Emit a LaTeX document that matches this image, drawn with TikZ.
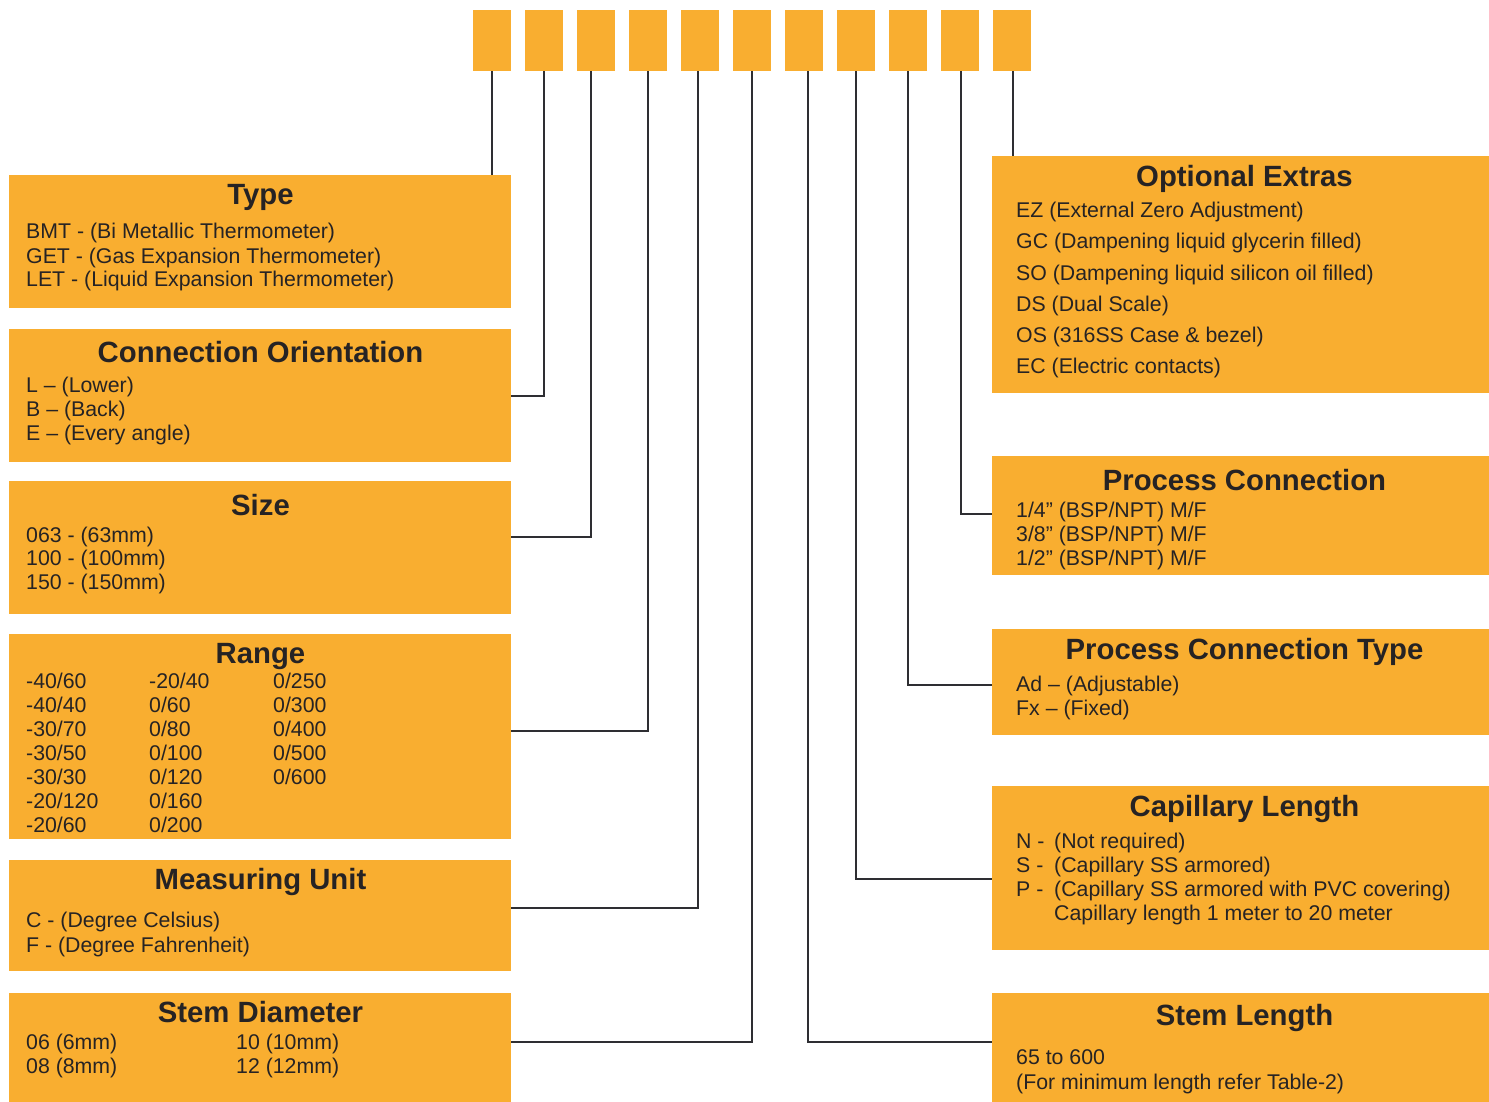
\documentclass[tikz,border=0pt]{standalone}
\usepackage{fontspec}
\setmainfont{Liberation Sans}
\definecolor{boxorange}{HTML}{F9AE30}
\definecolor{inkdark}{HTML}{262324}
\definecolor{linedark}{HTML}{2E2E32}
\begin{document}
\begin{tikzpicture}[x=1pt,y=-1pt,
  box/.style={fill=boxorange,draw=none,anchor=north west,inner sep=0pt},
  sq/.style={box,minimum width=38pt,minimum height=61pt},
  ttl/.style={anchor=base,inner sep=0pt,text=inkdark,font=\fontsize{29.3}{33}\selectfont\bfseries},
  body/.style={anchor=base west,inner sep=0pt,text=inkdark,font=\fontsize{21.3}{24}\selectfont},
  conn/.style={draw=linedark,line width=2.4pt}]
\useasboundingbox (0,0) rectangle (1489,1102);
% top code squares
\foreach \i in {1,...,11}
  \node[sq] (s\i) at ({473+52*(\i-1)},10) {};
% left boxes
\node[box,minimum width=502pt,minimum height=133pt] (type) at (9,175) {};
\node[box,minimum width=502pt,minimum height=133pt] (orient) at (9,329) {};
\node[box,minimum width=502pt,minimum height=133pt] (size) at (9,481) {};
\node[box,minimum width=502pt,minimum height=205pt] (range) at (9,634) {};
\node[box,minimum width=502pt,minimum height=111pt] (unit) at (9,860) {};
\node[box,minimum width=502pt,minimum height=109pt] (diam) at (9,993) {};
% right boxes
\node[box,minimum width=497pt,minimum height=237pt] (extras) at (992,156) {};
\node[box,minimum width=497pt,minimum height=119pt] (pc) at (992,456) {};
\node[box,minimum width=497pt,minimum height=106pt] (pctype) at (992,629) {};
\node[box,minimum width=497pt,minimum height=164pt] (cap) at (992,786) {};
\node[box,minimum width=497pt,minimum height=109pt] (slen) at (992,993) {};
% titles
\node[ttl] (type-t) at (260.5,205) {Type};
\node[ttl] (orient-t) at (260.5,362) {Connection Orientation};
\node[ttl] (size-t) at (260.5,515) {Size};
\node[ttl] (range-t) at (260.5,663) {Range};
\node[ttl] (unit-t) at (260.5,889) {Measuring Unit};
\node[ttl] (diam-t) at (260.5,1022) {Stem Diameter};
\node[ttl] (extras-t) at (1244.5,187) {Optional Extras};
\node[ttl] (pc-t) at (1244.5,490) {Process Connection};
\node[ttl] (pctype-t) at (1244.5,659) {Process Connection Type};
\node[ttl] (cap-t) at (1244.5,816) {Capillary Length};
\node[ttl] (slen-t) at (1244.5,1025) {Stem Length};
% left texts
\foreach \t [count=\i from 0] in {{BMT - (Bi Metallic Thermometer)},{GET - (Gas Expansion Thermometer)},{LET - (Liquid Expansion Thermometer)}}
  \node[body] (type-l\i) at (26,{239+24*\i}) {\t};
\foreach \t [count=\i from 0] in {{L -- (Lower)},{B -- (Back)},{E -- (Every angle)}}
  \node[body] (orient-l\i) at (26,{392+24*\i}) {\t};
\foreach \t [count=\i from 0] in {{063 - (63mm)},{100 - (100mm)},{150 - (150mm)}}
  \node[body] (size-l\i) at (26,{542+23.5*\i}) {\t};
\foreach \t [count=\i from 0] in {-40/60,-40/40,-30/70,-30/50,-30/30,-20/120,-20/60}
  \node[body] (range-a\i) at (26,{688+24*\i}) {\t};
\foreach \t [count=\i from 0] in {-20/40,0/60,0/80,0/100,0/120,0/160,0/200}
  \node[body] (range-b\i) at (149,{688+24*\i}) {\t};
\foreach \t [count=\i from 0] in {0/250,0/300,0/400,0/500,0/600}
  \node[body] (range-c\i) at (273,{688+24*\i}) {\t};
\foreach \t [count=\i from 0] in {{C - (Degree Celsius)},{F - (Degree Fahrenheit)}}
  \node[body] (unit-l\i) at (26,{927+25*\i}) {\t};
\foreach \t [count=\i from 0] in {{06 (6mm)},{08 (8mm)}}
  \node[body] (diam-a\i) at (26,{1049+24*\i}) {\t};
\foreach \t [count=\i from 0] in {{10 (10mm)},{12 (12mm)}}
  \node[body] (diam-b\i) at (236,{1049+24*\i}) {\t};
% right texts
\foreach \t [count=\i from 0] in {{EZ (External Zero Adjustment)},{GC (Dampening liquid glycerin filled)},{SO (Dampening liquid silicon oil filled)},{DS (Dual Scale)},{OS (316SS Case \& bezel)},{EC (Electric contacts)}}
  \node[body] (extras-l\i) at (1016,{218+31*\i}) {\t};
\foreach \t [count=\i from 0] in {{1/4” (BSP/NPT) M/F},{3/8” (BSP/NPT) M/F},{1/2” (BSP/NPT) M/F}}
  \node[body] (pc-l\i) at (1016,{517+24*\i}) {\t};
\foreach \t [count=\i from 0] in {{Ad -- (Adjustable)},{Fx -- (Fixed)}}
  \node[body] (pctype-l\i) at (1016,{691+24*\i}) {\t};
\foreach \t [count=\i from 0] in {{N -},{S -},{P -}}
  \node[body] (cap-a\i) at (1016,{848+24*\i}) {\t};
\foreach \t [count=\i from 0] in {{(Not required)},{(Capillary SS armored)},{(Capillary SS armored with PVC covering)},{Capillary length 1 meter to 20 meter}}
  \node[body] (cap-b\i) at (1054,{848+24*\i}) {\t};
\foreach \t [count=\i from 0] in {{65 to 600},{(For minimum length refer Table-2)}}
  \node[body] (slen-l\i) at (1016,{1064+25*\i}) {\t};
% connectors
\draw[conn] (s1.south -| 492,0) -- (type.north -| 492,0);
\draw[conn] (s2.south -| 544,0) |- (orient.east |- 0,396);
\draw[conn] (s3.south -| 591,0) |- (size.east |- 0,537);
\draw[conn] (s4.south -| 648,0) |- (range.east |- 0,731);
\draw[conn] (s5.south -| 698,0) |- (unit.east |- 0,908);
\draw[conn] (s6.south -| 752,0) |- (diam.east |- 0,1042);
\draw[conn] (s7.south -| 808,0) |- (slen.west |- 0,1042);
\draw[conn] (s8.south -| 856,0) |- (cap.west |- 0,879);
\draw[conn] (s9.south -| 908,0) |- (pctype.west |- 0,685);
\draw[conn] (s10.south -| 961,0) |- (pc.west |- 0,514);
\draw[conn] (s11.south -| 1013,0) -- (extras.north -| 1013,0);
\end{tikzpicture}
\end{document}
